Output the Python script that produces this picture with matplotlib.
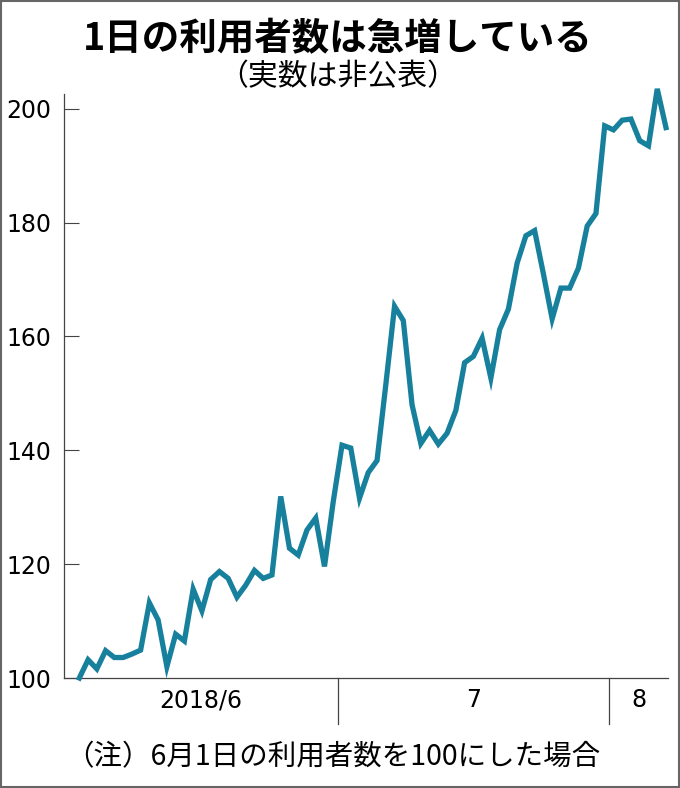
import matplotlib
matplotlib.use("Agg")
import matplotlib.pyplot as plt
import matplotlib.transforms as mtransforms
from matplotlib.patches import Rectangle

# index values (June 1 = 100), one per day from 2018/6/1
values = [100.0, 103.2, 101.6, 104.8, 103.6, 103.6, 104.2, 104.9, 113.2, 110.2,
          102.0, 107.7, 106.5, 115.6, 111.8, 117.3, 118.7, 117.5, 114.2, 116.3,
          118.9, 117.5, 118.1, 131.9, 122.8, 121.6, 126.0, 128.1, 119.6, 131.0,
          140.9, 140.4, 131.6, 136.1, 138.2, 151.5, 165.3, 162.8, 148.0, 141.2,
          143.5, 141.1, 143.0, 147.0, 155.4, 156.5, 159.7, 152.7, 161.2, 164.8,
          172.9, 177.7, 178.6, 171.0, 163.1, 168.5, 168.5, 172.0, 179.4, 181.6,
          197.0, 196.3, 198.0, 198.2, 194.4, 193.5, 203.5, 196.7]
days = list(range(len(values)))

month_labels = ["2018/6", "7", "8"]
month_starts = [0, 30, 61]
y_ticks = [100, 120, 140, 160, 180, 200]

title = "1日の利用者数は急増している"
subtitle = "（実数は非公表）"
note = "（注）6月1日の利用者数を100にした場合"

JP = ["Noto Sans CJK JP", "DejaVu Sans"]
W, H = 680, 788
line_color = "#17809c"
axis_color = "#444444"

fig = plt.figure(figsize=(W / 100, H / 100), dpi=100)
ax = fig.add_axes([64 / W, (H - 678) / H, (668 - 64) / W, (678 - 94) / H])

ax.plot(days, values, color=line_color, lw=3.8, solid_joinstyle="miter",
        clip_on=False, zorder=3)

ax.set_xlim(-1.75, len(values) - 1 + 0.23)
ax.set_ylim(100, 202.6)

for side in ["top", "right"]:
    ax.spines[side].set_visible(False)
for side in ["left", "bottom"]:
    ax.spines[side].set_color(axis_color)
    ax.spines[side].set_linewidth(0.9)

ax.set_yticks(y_ticks)
ax.set_yticklabels([str(t) for t in y_ticks], fontsize=17, family="DejaVu Sans")
ax.tick_params(axis="y", direction="in", length=11, width=0.8, color=axis_color, pad=9)
ax.set_xticks([])

# month dividers and labels below the axis
ax_h = 678 - 94
trans = mtransforms.blended_transform_factory(ax.transData, ax.transAxes)
x0, x1 = ax.get_xlim()
bounds = [x0] + [s - 0.5 for s in month_starts[1:]] + [x1]
for b in bounds[1:-1]:
    ax.plot([b, b], [0, -46 / ax_h], color=axis_color, lw=0.9,
            transform=trans, clip_on=False)
for lab, a, b in zip(month_labels, bounds[:-1], bounds[1:]):
    ax.text((a + b) / 2, -22 / ax_h, lab, transform=trans, ha="center",
            va="center", fontsize=17, family="DejaVu Sans")

fig.text(338 / W, 1 - 39 / H, title, ha="center", va="center",
         fontsize=27, fontweight="bold", family=JP)
fig.text(338 / W, 1 - 77 / H, subtitle, ha="center", va="center",
         fontsize=21.5, family=JP)
fig.text(333 / W, 1 - 757 / H, note, ha="center", va="center",
         fontsize=20.5, family=JP)

fig.patches.append(Rectangle((0.0015, 0.0015), 0.997, 0.997, transform=fig.transFigure,
                             fill=False, edgecolor="#666666", lw=1.5))

fig.savefig("out.png", dpi=100)
